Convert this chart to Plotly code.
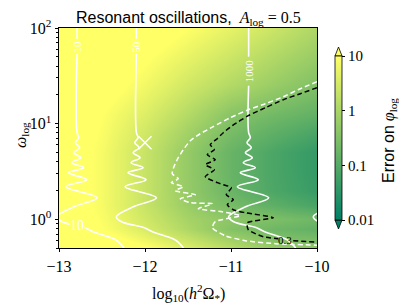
import numpy as np
import plotly.graph_objects as go

# The page body adds an 8px offset; the figure is sized so that the
# picture (window 407x304) matches the reference pixel layout.
OFF = 8
FW, FH = 399, 296
ML, MR, MT, MB = 51, 90, 20, 56
PW, PH = FW - ML - MR, FH - MT - MB

# ---------------- data ----------------
# error field: log10(error on phi_log) on a coarse grid
x_grid = [-13.0, -12.5, -12.0, -11.5, -11.0, -10.5, -10.0]
lw_grid = [-0.3, -0.2, -0.1, 0.0, 0.15, 0.3, 0.5, 0.7, 0.9, 1.1, 1.4, 1.7, 2.0]
log_err = [
    [1.9, 1.5, 1.05, 0.6, 0.15, -0.2, -0.32],
    [1.6, 1.2, 0.75, 0.3, -0.15, -0.5, -0.62],
    [1.4, 1.0, 0.55, 0.05, -0.45, -0.7, -0.85],
    [1.35, 0.95, 0.45, -0.05, -0.35, -0.52, -0.7],
    [1.3, 0.9, 0.35, -0.2, -0.6, -0.9, -1.15],
    [1.3, 0.9, 0.35, -0.25, -0.75, -1.1, -1.35],
    [1.3, 0.9, 0.35, -0.25, -0.78, -1.12, -1.4],
    [1.3, 0.9, 0.35, -0.25, -0.78, -1.12, -1.4],
    [1.35, 0.95, 0.45, -0.1, -0.6, -0.9, -1.15],
    [1.4, 1.0, 0.6, 0.12, -0.4, -0.65, -0.85],
    [1.5, 1.2, 0.85, 0.45, 0.1, -0.2, -0.49],
    [1.7, 1.4, 1.05, 0.72, 0.4, 0.08, -0.22],
    [1.9, 1.6, 1.3, 1.0, 0.7, 0.38, 0.05],
]

# SNR contours (white solid): vertical position and shared wiggle profile
snr_labels = ["10", "50", "1000"]
snr_x0 = [-12.79, -12.10, -10.795]
snr_label_lw = [1.808, 1.808, 1.553]
snr_gap_lw = [(1.888, 1.731), (1.888, 1.731), (1.70, 1.396)]
snr_extra_x0 = -9.81
wiggle_lw = [0.905, 0.853, 0.800, 0.748, 0.696, 0.643, 0.591, 0.539, 0.486, 0.413,
             0.340, 0.225, 0.131, 0.026, -0.026, -0.089, -0.131, -0.173, -0.225, -0.301]
wiggle_dx = [0.0, 0.020, -0.019, 0.031, -0.038, 0.043, -0.062, 0.078, -0.097, 0.113,
             -0.131, 0.233, -0.035, -0.233, -0.174, 0.093, 0.186, 0.326, 0.465, 0.547]

# white dashed contour
wd_x = [-10.0, -10.194, -10.392, -10.601, -10.799, -11.008, -11.206, -11.357, -11.473, -11.555,
        -11.613, -11.659, -11.683, -11.613, -11.694, -11.555, -11.648, -11.415, -11.590, -11.473,
        -11.217, -11.380, -11.101, -10.892, -11.183, -11.217, -11.066, -10.833, -10.484, -10.0]
wd_lw = [1.438, 1.365, 1.281, 1.208, 1.145, 1.062, 0.968, 0.894, 0.821, 0.727,
         0.643, 0.560, 0.476, 0.424, 0.382, 0.340, 0.298, 0.256, 0.214, 0.173,
         0.162, 0.110, 0.078, 0.037, -0.026, -0.089, -0.173, -0.225, -0.256, -0.272]

# black dashed contour (error = 0.3), gap for its label
bd_x = [-10.0, -10.194, -10.392, -10.601, -10.799, -10.985, -11.090, -11.160, -11.241, -11.194,
        -11.276, -11.183, -11.299, -11.194, -11.299, -11.124, -10.996, -11.055, -10.973, -11.043,
        -10.973, -10.833, -10.508, -10.810, -10.799, -10.624, -10.450, None, -10.276, -10.0]
bd_lw = [1.376, 1.313, 1.250, 1.166, 1.083, 0.978, 0.905, 0.842, 0.779, 0.727,
         0.675, 0.622, 0.570, 0.518, 0.445, 0.371, 0.330, 0.256, 0.204, 0.152,
         0.099, 0.068, 0.016, -0.037, -0.110, -0.183, -0.204, None, -0.225, -0.241]
bd_label = "0.3"
bd_label_pos = (-10.369, -0.214)

marker_x = [-12.0]
marker_w = [6.3]

cbar_tickvals = [-2, -1, 0, 1]
cbar_ticktext = ["0.01", "0.1", "1", "10"]

# ---------------- figure ----------------
def to_w(v):
    return [None if a is None else 10 ** a for a in v]

def px2x(px):          # screen px -> paper x
    return (px - OFF - ML) / PW

def py2y(py):          # screen px -> paper y
    return (FH - MB - (py - OFF)) / PH

SERIF = "Liberation Serif"
SANS = "Liberation Sans"
summer = [[0, "rgb(0,128,102)"], [1, "rgb(255,255,102)"]]

fig = go.Figure()
fig.add_trace(go.Heatmap(
    x=x_grid, y=to_w(lw_grid), z=log_err, zmin=-2, zmax=1, zsmooth="best",
    colorscale=summer,
    colorbar=dict(x=px2x(335), xanchor="left", y=(py2y(56) + py2y(220)) / 2, yanchor="middle",
                  len=164 / PH, lenmode="fraction", thickness=7, thicknessmode="pixels",
                  outlinewidth=0.8, outlinecolor="black", tickvals=cbar_tickvals,
                  ticktext=cbar_ticktext, ticks="outside", ticklen=3, tickwidth=0.8,
                  tickcolor="black", xpad=0, ypad=0,
                  tickfont=dict(family=SERIF, size=15, color="black")),
    hoverinfo="skip"))

def snr_line(x0, gap=None):
    xs, ys = [], []
    if gap is not None:
        xs += [x0, x0, None, x0]
        ys += [2.0, gap[0], None, gap[1]]
    else:
        xs += [x0]
        ys += [2.0]
    xs += [x0 + d for d in wiggle_dx]
    ys += wiggle_lw
    return xs, ys

for x0, g in zip(snr_x0, snr_gap_lw):
    xs, ys = snr_line(x0, g)
    fig.add_trace(go.Scatter(x=xs, y=to_w(ys), mode="lines",
                             line=dict(color="white", width=1.6, shape="spline", smoothing=1.0),
                             hoverinfo="skip", showlegend=False))
xs, ys = snr_line(snr_extra_x0)
fig.add_trace(go.Scatter(x=xs, y=to_w(ys), mode="lines",
                         line=dict(color="white", width=1.6, shape="spline", smoothing=1.0),
                         hoverinfo="skip", showlegend=False))

fig.add_trace(go.Scatter(x=wd_x, y=to_w(wd_lw), mode="lines",
                         line=dict(color="white", width=1.5, dash="5px,3px", shape="spline", smoothing=0.6),
                         hoverinfo="skip", showlegend=False))
fig.add_trace(go.Scatter(x=bd_x, y=to_w(bd_lw), mode="lines", connectgaps=False,
                         line=dict(color="black", width=1.5, dash="5px,3px", shape="spline", smoothing=0.6),
                         hoverinfo="skip", showlegend=False))
fig.add_trace(go.Scatter(x=marker_x, y=marker_w, mode="markers",
                         marker=dict(symbol="x-thin", size=13, line=dict(color="white", width=1.5)),
                         hoverinfo="skip", showlegend=False))

ann = []
for lab, x0, lw in zip(snr_labels, snr_x0, snr_label_lw):
    ann.append(dict(x=x0, y=lw, xref="x", yref="y", text=lab, showarrow=False,
                    xanchor="center", yanchor="middle",
                    textangle=-90, font=dict(family=SERIF, size=11, color="white")))
ann.append(dict(x=snr_x0[0], y=-0.068, xref="x", yref="y", text=snr_labels[0], showarrow=False,
                xanchor="center", yanchor="middle",
                bgcolor="rgb(255,255,102)", borderpad=0,
                font=dict(family=SERIF, size=14, color="white")))
ann.append(dict(x=bd_label_pos[0], y=bd_label_pos[1], xref="x", yref="y", text=bd_label,
                xanchor="center", yanchor="middle",
                showarrow=False, font=dict(family=SERIF, size=11, color="black")))

ann.append(dict(x=px2x(188), y=py2y(18), xref="paper", yref="paper", showarrow=False,
                xanchor="center", yanchor="middle",
                text=f"<span style='font-family:{SANS}'>Resonant oscillations,</span>  <i>A</i><sub>log</sub> = 0.5",
                font=dict(family=SERIF, size=16, color="black")))
ann.append(dict(x=px2x(188), y=py2y(293), xref="paper", yref="paper", showarrow=False,
                xanchor="center", yanchor="middle",
                text="log<sub>10</sub>(<i>h</i><sup>2</sup>Ω<sub>*</sub>)",
                font=dict(family=SERIF, size=16, color="black")))
ann.append(dict(x=px2x(21), y=py2y(135), xref="paper", yref="paper", showarrow=False,
                xanchor="center", yanchor="middle",
                textangle=-90, text="<i>ω</i><sub>log</sub>",
                font=dict(family=SERIF, size=16, color="black")))
ann.append(dict(x=px2x(389), y=py2y(141), xref="paper", yref="paper", showarrow=False,
                xanchor="center", yanchor="middle",
                textangle=-90,
                text=f"<span style='font-family:{SANS}'>Error on</span> <i>φ</i><sub>log</sub>",
                font=dict(family=SERIF, size=16, color="black")))

shapes = [
    dict(type="path", xref="paper", yref="paper",
         path=f"M {px2x(335)},{py2y(56)} L {px2x(342)},{py2y(56)} L {px2x(338.5)},{py2y(47)} Z",
         fillcolor="rgb(255,255,102)", line=dict(color="black", width=0.8)),
    dict(type="path", xref="paper", yref="paper",
         path=f"M {px2x(335)},{py2y(220)} L {px2x(342)},{py2y(220)} L {px2x(338.5)},{py2y(229)} Z",
         fillcolor="rgb(0,128,102)", line=dict(color="black", width=0.8)),
]

minor_vals = [0.5, 0.6, 0.7, 0.8, 0.9] + [k for k in range(2, 10)] + [10 * k for k in range(2, 10)]

fig.update_layout(
    width=FW, height=FH, margin=dict(l=ML, r=MR, t=MT, b=MB, autoexpand=False),
    autosize=False,
    paper_bgcolor="white", plot_bgcolor="white",
    annotations=ann, shapes=shapes, showlegend=False,
    xaxis=dict(range=[-13, -10], tickvals=[-13, -12, -11, -10], ticks="outside", ticklen=3.5,
               tickwidth=0.8, tickcolor="black", showline=True, linecolor="black", linewidth=0.8,
               mirror=True, showgrid=False, zeroline=False, automargin=False,
               tickfont=dict(family=SERIF, size=16, color="black")),
    yaxis=dict(type="log", range=[np.log10(0.5), 2], tickvals=[1, 10, 100],
               ticktext=["10<sup>0</sup>", "10<sup>1</sup>", "10<sup>2</sup>"],
               ticks="outside", ticklen=3.5, tickwidth=0.8, tickcolor="black",
               showline=True, linecolor="black", linewidth=0.8, mirror=True,
               showgrid=False, zeroline=False, automargin=False,
               minor=dict(tickmode="array", tickvals=minor_vals, ticks="outside", ticklen=2,
                          tickwidth=0.6, tickcolor="black", showgrid=False),
               tickfont=dict(family=SERIF, size=16, color="black")),
)

fig.write_html("out.html")
